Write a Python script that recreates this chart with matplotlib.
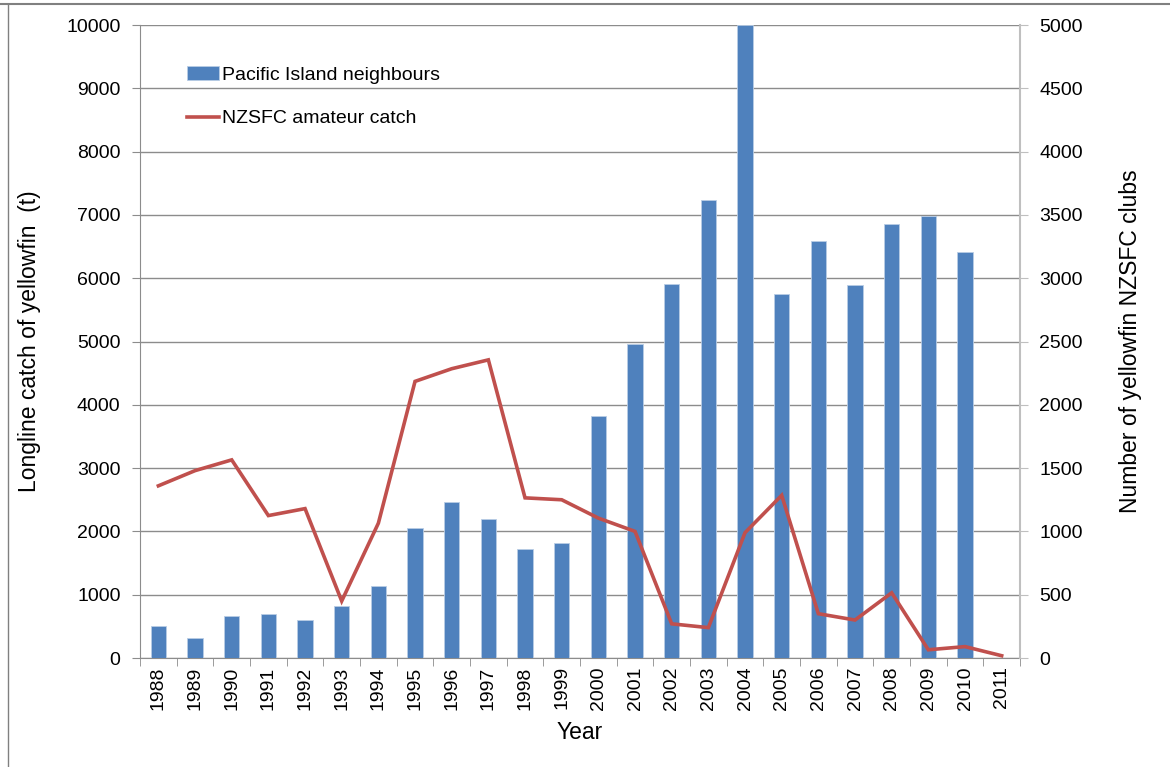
import matplotlib
matplotlib.use("Agg")
import matplotlib.pyplot as plt
from matplotlib.lines import Line2D
import numpy as np

plt.rcParams['font.family'] = ['Liberation Sans', 'DejaVu Sans']

years = [str(y) for y in range(1988, 2012)]
# longline catch (t), no figure for 2011
pacific = [510, 320, 670, 700, 600, 820, 1140, 2050, 2470, 2200, 1720, 1815,
           3820, 4960, 5910, 7235, 10000, 5750, 6590, 5890, 6855, 6980, 6415, 0]
# NZSFC club catch (number of fish)
nzsfc = [1360, 1480, 1565, 1125, 1180, 450, 1065, 2185, 2285, 2355, 1265, 1250,
         1105, 1000, 270, 240, 990, 1285, 350, 300, 515, 65, 90, 18]

blue = '#4F81BD'
red = '#C0504D'
grid_c = '#8C8C8C'

fig = plt.figure(figsize=(11.7, 7.67), dpi=100)
ax = fig.add_axes([0.1197, 0.1421, 0.7521, 0.8253])
ax2 = ax.twinx()

x = np.arange(len(years))
bars = ax.bar(x, pacific, width=0.42, color=blue, edgecolor='#B9CDE5', linewidth=0.6,
              label='Pacific Island neighbours', zorder=3)
line, = ax2.plot(x, nzsfc, color=red, linewidth=2.6, label='NZSFC amateur catch',
                 solid_joinstyle='miter')

ax.set_xlim(-0.5, len(years) - 0.5)
ax.set_ylim(0, 10000)
ax.set_yticks(np.arange(0, 10001, 1000))
ax2.set_ylim(0, 5000)
ax2.set_yticks(np.arange(0, 5001, 500))

ax.yaxis.grid(True, color=grid_c, linewidth=1.0, zorder=0)
ax.set_axisbelow(True)

ax.set_xticks(x)
ax.set_xticklabels(years, rotation=90, fontsize=14)
ax.set_xticks(np.arange(-0.5, len(years), 1), minor=True)
ax.tick_params(axis='x', which='major', length=0, pad=6)
ax.tick_params(axis='x', which='minor', length=6, color=grid_c, direction='out')
ax.tick_params(axis='y', length=6, color=grid_c, labelsize=14, pad=8)
ax2.tick_params(axis='y', length=6, color='#BFBFBF', labelsize=14, pad=8)

for a in (ax, ax2):
    a.spines['top'].set_visible(False)
ax.spines['left'].set_color(grid_c)
ax.spines['bottom'].set_color(grid_c)
ax.spines['right'].set_visible(False)
ax2.spines['left'].set_visible(False)
ax2.spines['bottom'].set_visible(False)
ax2.spines['right'].set_color('#BFBFBF')
ax2.spines['right'].set_linewidth(1.5)

ax.set_xlabel('Year', fontsize=16.5, labelpad=8)
ax.set_ylabel('Longline catch of yellowfin  (t)', fontsize=16.5, labelpad=18)
ax2.set_ylabel('Number of yellowfin NZSFC clubs', fontsize=16.5, labelpad=26)

leg = ax.legend([bars, line], ['Pacific Island neighbours', 'NZSFC amateur catch'],
                loc='upper left', bbox_to_anchor=(0.034, 0.963), frameon=False,
                fontsize=14, handlelength=1.6, handletextpad=0.2, labelspacing=1.35)
leg.set_zorder(5)

# outer chart border (top and left edges)
fig.add_artist(Line2D([0, 1], [1 - 4 / 767, 1 - 4 / 767], color='#808080',
                      linewidth=1.5, transform=fig.transFigure))
fig.add_artist(Line2D([8 / 1170, 8 / 1170], [0, 1 - 4 / 767], color='#808080',
                      linewidth=1.0, transform=fig.transFigure))

fig.savefig('out.png', dpi=100)
